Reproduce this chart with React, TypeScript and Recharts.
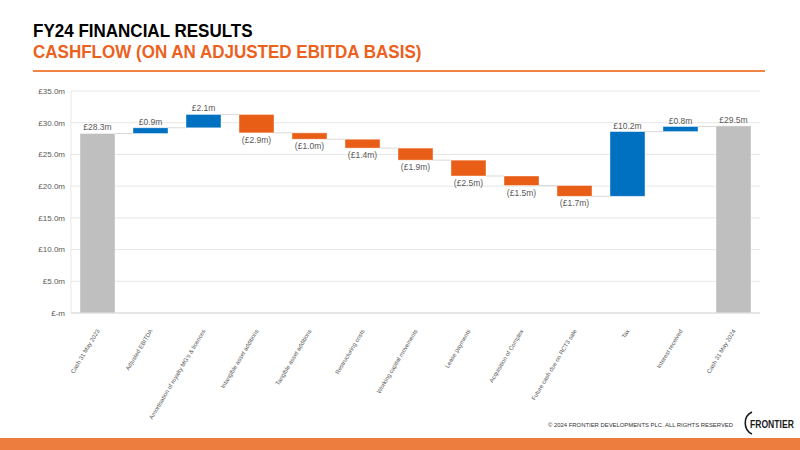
import React from 'react'
import { BarChart, Bar, XAxis, YAxis, CartesianGrid, Cell, LabelList } from 'recharts'

const BLUE   = '#0070C0'
const ORANGE = '#E95E17'
const GREY   = '#BFBFBF'
const TEXT   = '#595959'
const FONT   = '"Liberation Sans", Arial, sans-serif'

const categories = [
  'Cash 31 May 2023',
  'Adjusted EBITDA',
  "Amortisation of royalty MG's & licences",
  'Intangible asset additions',
  'Tangible asset additions',
  'Restructuring costs',
  'Working capital movements',
  'Lease payments',
  'Acquisition of Complex',
  'Future cash due on RCT3 sale',
  'Tax',
  'Interest received',
  'Cash 31 May 2024',
]
const values  = [28.3, 0.9, 2.1, -2.9, -1.0, -1.4, -1.9, -2.5, -1.5, -1.7, 10.2, 0.8, 29.5]
const isTotal = [true, false, false, false, false, false, false, false, false, false, false, false, true]
const yTicks  = [0, 5, 10, 15, 20, 25, 30, 35]

// waterfall rows: invisible base + visible size
let run = 0
const rows = categories.map((name, i) => {
  const v = values[i]
  if (isTotal[i]) {
    run = v
    return { name, base: 0, size: v, v, kind: 'total' }
  }
  const base = Math.min(run, run + v)
  run += v
  return { name, base, size: Math.abs(v), v, kind: v >= 0 ? 'inc' : 'dec' }
})

const colorOf = (kind: string) => (kind === 'total' ? GREY : kind === 'inc' ? BLUE : ORANGE)
const fmtY = (v: number) => (v === 0 ? '£-m' : `£${v.toFixed(1)}m`)
const fmtV = (v: number) => (v < 0 ? `(£${Math.abs(v).toFixed(1)}m)` : `£${v.toFixed(1)}m`)

const CHART_W = 800
const M = { top: 11, right: 40, left: 10, bottom: 0 }
const Y_W = 61
const BAR = 35
const STEP = (CHART_W - M.left - M.right - Y_W) / categories.length

function StepBar(props: any) {
  const { x, y, width, height, fill, payload, index } = props
  const endY = payload.kind === 'dec' ? y + height : y
  return (
    <g>
      <rect x={x} y={y} width={width} height={height} fill={fill} stroke="#ffffff" strokeOpacity={0.5} strokeWidth={0.8} />
      {index < categories.length - 1 && (
        <line x1={x + width} x2={x + STEP} y1={endY} y2={endY} stroke="#d9d9d9" strokeWidth={1} />
      )}
    </g>
  )
}

function ValueLabel(props: any) {
  const { x, y, width, height, index } = props
  const v = values[index]
  const below = v < 0 && !isTotal[index]
  return (
    <text x={x + width / 2} y={below ? y + height + 10 : y - 3} textAnchor="middle"
      fontSize={8.5} fill={TEXT} fontFamily={FONT}>
      {fmtV(v)}
    </text>
  )
}

function XTick({ x, y, payload }: any) {
  return (
    <text transform={`translate(${x + 1},${y + 9}) rotate(-59)`} textAnchor="end" dominantBaseline="middle"
      fontSize={6} fill={TEXT} fontFamily={FONT}>
      {payload.value}
    </text>
  )
}

function Logo() {
  return (
    <svg width={56} height={26} style={{ position: 'absolute', left: 741, top: 410 }}>
      <path d="M11 2 C2 6 2 20 11 24" fill="none" stroke="#1a1a1a" strokeWidth={1.6} />
      <g transform="translate(9,18) scale(0.78,1)">
        <text x={0} y={0} fontSize={11} fontWeight="bold" fill="#1a1a1a" fontFamily={FONT}>FRONTIER</text>
      </g>
    </svg>
  )
}

const head: React.CSSProperties = {
  position: 'absolute', left: 33, fontSize: 18, fontWeight: 'bold', lineHeight: '20px',
  whiteSpace: 'nowrap', transform: 'scaleX(0.945)', transformOrigin: 'left center', fontFamily: FONT,
}

export default function App() {
  return (
    <div style={{ position: 'absolute', left: 0, top: 0, width: 800, height: 450, background: '#fff', overflow: 'hidden', fontFamily: FONT }}>
      <div style={{ ...head, top: 21, color: '#000' }}>FY24 FINANCIAL RESULTS</div>
      <div style={{ ...head, top: 42, color: '#EC611D' }}>CASHFLOW (ON AN ADJUSTED EBITDA BASIS)</div>
      <div style={{ position: 'absolute', left: 33, top: 70, width: 732, height: 2, background: '#F08447' }} />

      <div style={{ position: 'absolute', left: 0, top: 80 }}>
        <BarChart width={CHART_W} height={358} data={rows} margin={M} barSize={BAR}>
          <CartesianGrid vertical={false} stroke="#e6e6e6" />
          <XAxis dataKey="name" interval={0} tick={<XTick />} tickLine={false} axisLine={{ stroke: '#d9d9d9' }} height={125} />
          <YAxis domain={[0, 35]} ticks={yTicks} tickFormatter={fmtY} width={Y_W} tickLine={false} tickSize={0} tickMargin={6}
            axisLine={{ stroke: '#e6e6e6' }} tick={{ fontSize: 8, fill: TEXT, fontFamily: FONT }} />
          <Bar dataKey="base" stackId="w" fill="transparent" isAnimationActive={false} />
          <Bar dataKey="size" stackId="w" isAnimationActive={false} shape={<StepBar />}>
            {rows.map((r, i) => <Cell key={i} fill={colorOf(r.kind)} />)}
            <LabelList dataKey="size" content={<ValueLabel />} />
          </Bar>
        </BarChart>
      </div>

      <div style={{ position: 'absolute', left: 548, top: 422, fontSize: 5.9, color: '#333', whiteSpace: 'nowrap', fontFamily: FONT }}>
        © 2024 FRONTIER DEVELOPMENTS PLC. ALL RIGHTS RESERVED
      </div>
      <Logo />
      <div style={{ position: 'absolute', left: 0, top: 438, width: 800, height: 12, background: '#ED7D3F' }} />
    </div>
  )
}
